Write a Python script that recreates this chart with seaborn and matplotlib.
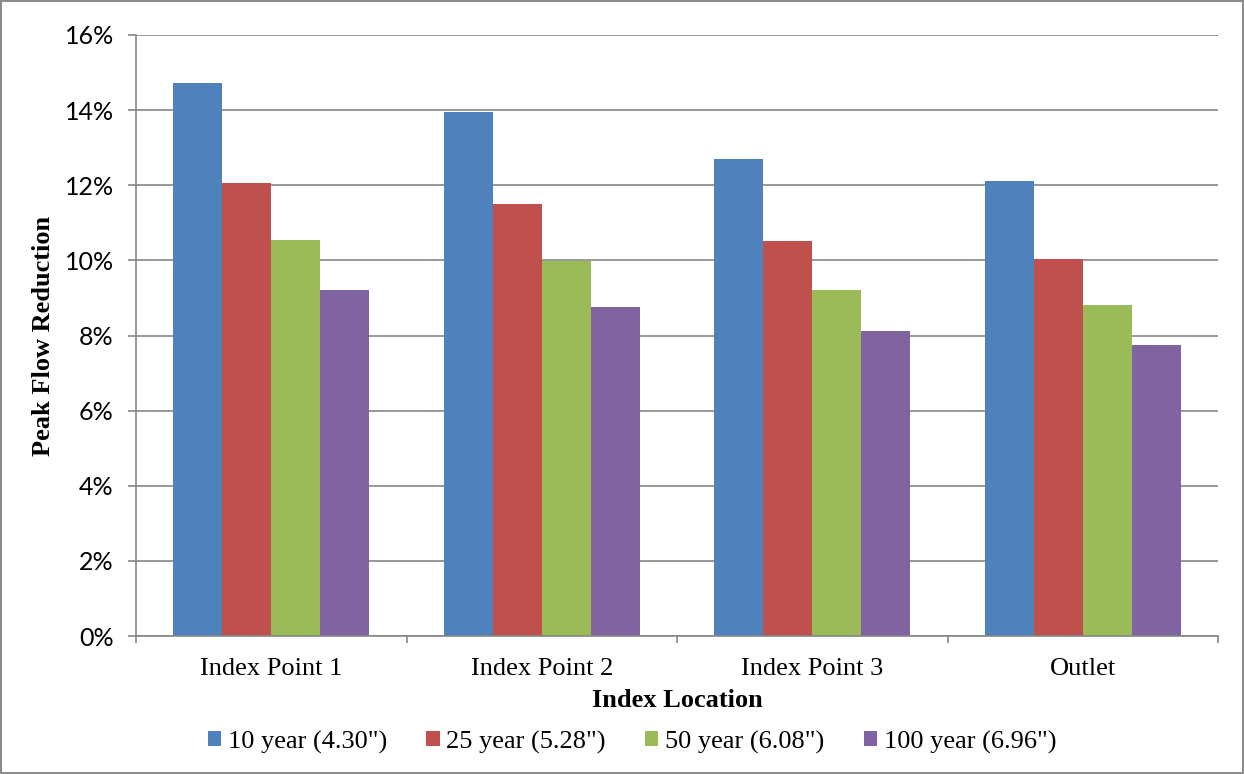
import matplotlib
matplotlib.use("Agg")
import matplotlib.pyplot as plt
import seaborn as sns
import pandas as pd
from matplotlib.ticker import FuncFormatter, MultipleLocator, FixedLocator

locations = ["Index Point 1", "Index Point 2", "Index Point 3", "Outlet"]
storms = ['10 year (4.30")', '25 year (5.28")', '50 year (6.08")', '100 year (6.96")']
reduction_10yr = [14.72, 13.95, 12.70, 12.12]
reduction_25yr = [12.07, 11.50, 10.52, 10.04]
reduction_50yr = [10.55, 9.99, 9.21, 8.81]
reduction_100yr = [9.21, 8.77, 8.12, 7.76]
colors = ["#4F81BD", "#C0504D", "#9BBB59", "#8064A2"]

rows = []
for storm, vals in zip(storms, [reduction_10yr, reduction_25yr, reduction_50yr, reduction_100yr]):
    for loc, v in zip(locations, vals):
        rows.append({"location": loc, "storm": storm, "reduction": v})
df = pd.DataFrame(rows)

sns.set_style("white")
plt.rcParams["text.color"] = "black"
plt.rcParams["xtick.color"] = "black"
plt.rcParams["ytick.color"] = "black"
serif = ["Liberation Serif", "DejaVu Serif"]
sans = ["Lato", "DejaVu Sans"]

fig = plt.figure(figsize=(12.44, 7.74), dpi=100)
fig.patch.set_edgecolor("#8c8c8c")
fig.patch.set_linewidth(1.5)
ax = fig.add_axes([136 / 1244, 138 / 774, 1082 / 1244, 601 / 774])

sns.barplot(data=df, x="location", y="reduction", hue="storm", order=locations,
            hue_order=storms, palette=colors, width=0.725, saturation=1,
            edgecolor="none", linewidth=0, ax=ax, legend=True)

ax.set_ylim(0, 16)
ax.set_xlim(-0.5, len(locations) - 0.5)
ax.yaxis.set_major_locator(MultipleLocator(2))
ax.yaxis.set_major_formatter(FuncFormatter(lambda v, p: f"{v:.0f}%"))
ax.grid(axis="y", color="#868686", linewidth=1.2)
ax.set_axisbelow(True)

for side in ["top", "right"]:
    ax.spines[side].set_visible(False)
for side in ["left", "bottom"]:
    ax.spines[side].set_color("#868686")
    ax.spines[side].set_linewidth(1.2)

ax.tick_params(axis="y", left=True, length=6, color="#868686", labelcolor="black",
               width=1.2, pad=10)
ax.tick_params(axis="x", which="major", bottom=True, length=0, pad=16, labelcolor="black")
ax.xaxis.set_minor_locator(FixedLocator([i - 0.5 for i in range(len(locations) + 1)]))
ax.tick_params(axis="x", which="minor", bottom=True, length=5, color="#868686", width=1.2)

for lbl in ax.get_yticklabels():
    lbl.set_family(sans)
    lbl.set_fontsize(18)
for lbl in ax.get_xticklabels():
    lbl.set_family(serif)
    lbl.set_fontsize(19)

ax.set_xlabel("Index Location", family=serif, fontsize=19, fontweight="bold",
              labelpad=6, color="black")
ax.set_ylabel("Peak Flow Reduction", family=serif, fontsize=19, fontweight="bold",
              labelpad=7, color="black")

handles, labels = ax.get_legend_handles_labels()
ax.get_legend().remove()
fig.legend(handles, labels, loc="center", bbox_to_anchor=(632 / 1244, 1 - 742 / 774),
           ncol=4, frameon=False, prop={"family": serif, "size": 19},
           handlelength=0.5, handleheight=0.5, handletextpad=0.25, columnspacing=1.5)

fig.savefig("out.png", dpi=100, edgecolor=fig.get_edgecolor())
